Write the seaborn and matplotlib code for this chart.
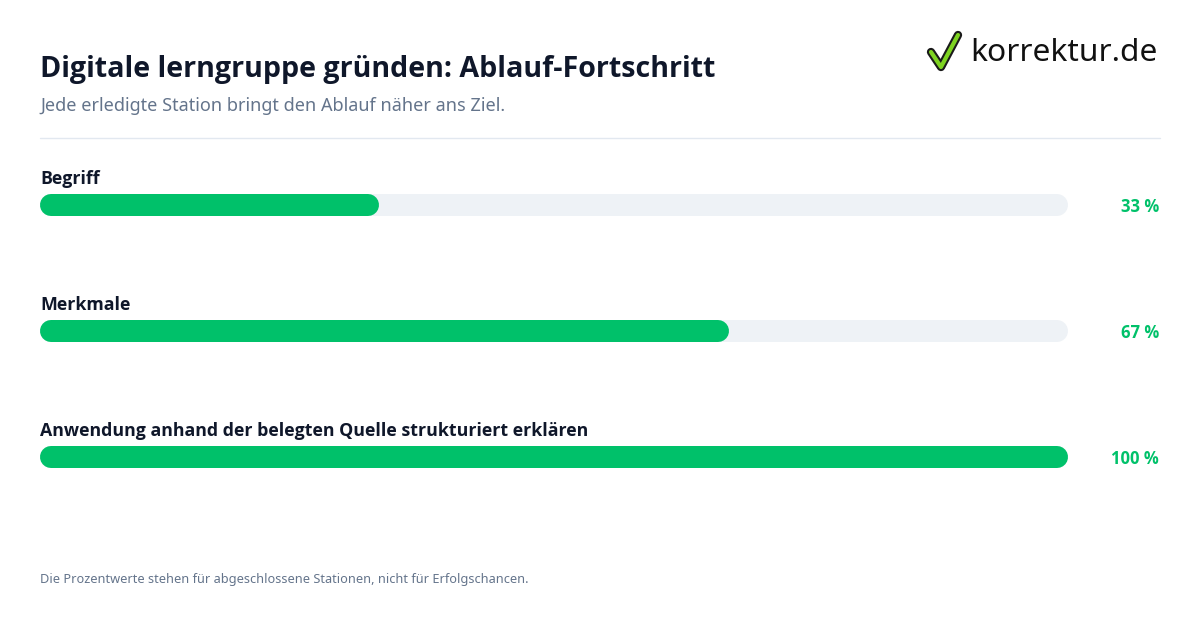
import matplotlib
matplotlib.use("Agg")
import matplotlib.pyplot as plt
import seaborn as sns
import pandas as pd

categories = ["Begriff", "Merkmale", "Anwendung anhand der belegten Quelle strukturiert erklären"]
values = [33, 67, 100]
pct_labels = ["33 %", "67 %", "100 %"]

sns.set_theme(style="white")
plt.rcParams['font.family'] = ['Noto Sans', 'DejaVu Sans']
BOLD = ['Open Sans', 'DejaVu Sans']

W, H = 1200, 630
fig = plt.figure(figsize=(12, 6.3), dpi=100)
fig.patch.set_facecolor("white")

def fx(px): return px / W
def fy(py): return 1 - py / H

dark = "#0f172a"; gray = "#64748b"; green = "#00c16a"; track = "#eef2f6"

fig.text(fx(40), fy(70), "Digitale lerngruppe gründen: Ablauf-Fortschritt", fontsize=20.6, fontweight="bold", family=BOLD, color=dark, va="center")
fig.text(fx(40), fy(106), "Jede erledigte Station bringt den Ablauf näher ans Ziel.", fontsize=13, color=gray, va="center")
fig.add_artist(plt.Line2D([fx(40), fx(1160)], [fy(138), fy(138)], color="#e2e8f0", lw=1))
fig.text(fx(40), fy(579), "Die Prozentwerte stehen für abgeschlossene Stationen, nicht für Erfolgschancen.", fontsize=9.2, color=gray, va="center")

# logo
fig.text(fx(970), fy(53), "korrektur.de", fontsize=22.8, color="#111111", va="center")
cx = [fx(931), fx(941), fx(958)]; cy = [fy(52), fy(67), fy(35)]
fig.add_artist(plt.Line2D(cx, cy, color="#1a1a1a", lw=6, solid_capstyle="round", solid_joinstyle="round"))
fig.add_artist(plt.Line2D(cx, cy, color="#7ed321", lw=3, solid_capstyle="round", solid_joinstyle="round"))

# axes spans 40..1068 px for 0..100 %; round caps (radius 11 px) inset
ax = fig.add_axes([fx(40), 0, 1028 / W, 1])
ax.set_xlim(0, 100)
ax.axis("off")
lw = 22 * 0.72
cap = 11 / 1028 * 100
for i, (c, v, p) in enumerate(zip(categories, values, pct_labels)):
    bg = pd.DataFrame({"x": [cap, 100 - cap], "y": [i, i]})
    sns.lineplot(data=bg, x="x", y="y", ax=ax, color=track, lw=lw, solid_capstyle="round", clip_on=False)
    fg = pd.DataFrame({"x": [cap, v - cap], "y": [i, i]})
    sns.lineplot(data=fg, x="x", y="y", ax=ax, color=green, lw=lw, solid_capstyle="round", clip_on=False)
    ax.text(0, i - 26 / 126, c, fontsize=12.8, fontweight="bold", family=BOLD, color=dark, va="center", ha="left")
    ax.text((1159 - 40) / 1028 * 100, i + 2 / 126, p, fontsize=12, fontweight="bold", family=BOLD, color=green, va="center", ha="right", clip_on=False)
ax.set_ylim((630 - 205) / 126, -205 / 126)

fig.savefig("out.png", dpi=100, facecolor="white")
